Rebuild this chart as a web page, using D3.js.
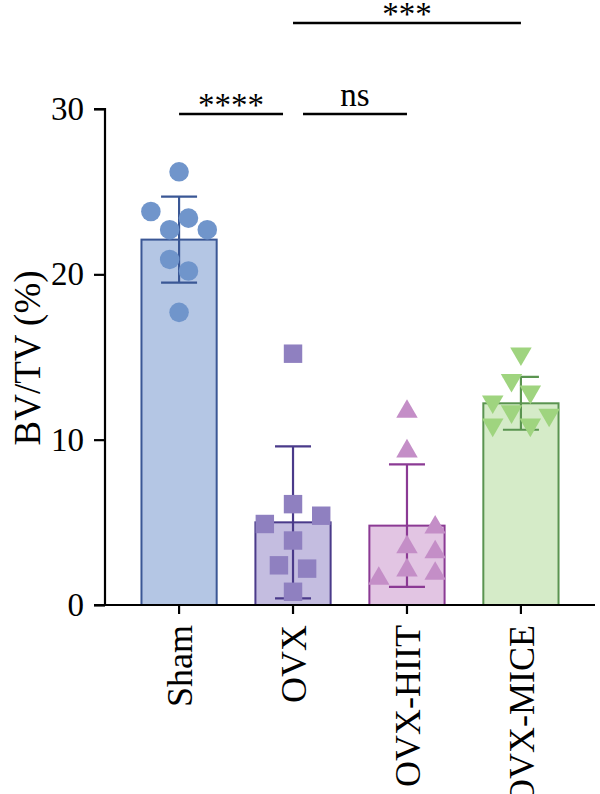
<!DOCTYPE html>
<html>
<head>
<meta charset="utf-8">
<script src="https://cdn.jsdelivr.net/npm/d3@7"></script>
<style>
  body { margin: 0; background: #fff; }
  text { font-family: "Liberation Serif", "Times New Roman", serif; }
</style>
</head>
<body>
<script>
// chart values
var groups = ["Sham", "OVX", "OVX-HIIT", "OVX-MICE"];
var shamVals = [26.2, 23.8, 23.4, 22.7, 22.7, 20.9, 20.2, 17.7];
var ovxVals = [15.2, 6.1, 4.9, 5.4, 3.9, 2.4, 2.2, 0.8];
var hiitVals = [11.7, 9.3, 4.7, 3.5, 3.2, 2.1, 1.9, 1.6];
var miceVals = [15.2, 13.6, 12.9, 12.3, 11.7, 11.5, 10.9, 10.9];
var means = [22.1, 5.0, 4.8, 12.2];
var sds = [2.6, 4.6, 3.7, 1.6];
// column slot of each dot inside its bar (scatter dodge)
var shamSlots = [0, -3, 1, -1, 3, -1, 1, 0];
var ovxSlots = [0, 0, -3, 3, 0, -1.5, 1.5, 0];
var hiitSlots = [0, 0, 3, 0, 3, 0, 3, -3];
var miceSlots = [0, -1, 1, -3, -1, 3, -3, 1];
var yTicks = [0, 10, 20, 30];
var comparisons = [
  {a: 0, b: 1, label: "****", level: 29.7},
  {a: 1, b: 2, label: "ns", level: 29.7},
  {a: 1, b: 3, label: "***", level: 35.2}
];

var w = 600, h = 794;
var fills = ["#b4c6e4", "#c4bde0", "#e2c5e3", "#d5ebc8"];
var strokes = ["#3a5795", "#4a3a8a", "#8b3a94", "#5a9450"];
var dots = ["#7095cb", "#8f80c0", "#c48ec7", "#9fd47f"];
var shapes = [d3.symbolCircle, d3.symbolSquare, d3.symbolTriangle, d3.symbolTriangle];

var allVals = [shamVals, ovxVals, hiitVals, miceVals];
var allSlots = [shamSlots, ovxSlots, hiitSlots, miceSlots];

var svg = d3.select("body").append("svg")
            .attr("width", w)
            .attr("height", h);

var xScale = d3.scaleBand()
               .domain(groups)
               .range([105, 595])
               .paddingInner(0.34)
               .paddingOuter(0.32);
var yScale = d3.scaleLinear()
               .domain([0, 30])
               .range([605, 109]);

var data = groups.map(function(g, i) {
  return {name: g, i: i, mean: means[i], sd: sds[i], vals: allVals[i], slots: allSlots[i]};
});

/****Bars****/
svg.selectAll("rect.bar")
   .data(data)
   .enter()
   .append("rect")
   .attr("class", "bar")
   .attr("x", function(d) { return xScale(d.name); })
   .attr("y", function(d) { return yScale(d.mean); })
   .attr("width", xScale.bandwidth())
   .attr("height", function(d) { return yScale(0) - yScale(d.mean); })
   .attr("fill", function(d) { return fills[d.i]; })
   .attr("stroke", function(d) { return strokes[d.i]; })
   .attr("stroke-width", 2);

/****Error bars****/
var cap = 18;
var eb = svg.selectAll("g.err")
            .data(data)
            .enter()
            .append("g")
            .attr("class", "err")
            .attr("stroke", function(d) { return strokes[d.i]; })
            .attr("stroke-width", 2.2);
eb.append("line")
  .attr("x1", function(d) { return xScale(d.name) + xScale.bandwidth() / 2; })
  .attr("x2", function(d) { return xScale(d.name) + xScale.bandwidth() / 2; })
  .attr("y1", function(d) { return yScale(d.mean + d.sd); })
  .attr("y2", function(d) { return yScale(d.mean - d.sd); });
[1, -1].forEach(function(s) {
  eb.append("line")
    .attr("x1", function(d) { return xScale(d.name) + xScale.bandwidth() / 2 - cap; })
    .attr("x2", function(d) { return xScale(d.name) + xScale.bandwidth() / 2 + cap; })
    .attr("y1", function(d) { return yScale(d.mean + s * d.sd); })
    .attr("y2", function(d) { return yScale(d.mean + s * d.sd); });
});

/****Points****/
var slotW = 9.4;
data.forEach(function(d) {
  var sym = d3.symbol().type(shapes[d.i]).size(d.i == 0 ? 300 : (d.i == 1 ? 340 : 200));
  svg.selectAll("path.pt" + d.i)
     .data(d.vals)
     .enter()
     .append("path")
     .attr("class", "pt" + d.i)
     .attr("d", sym)
     .attr("fill", dots[d.i])
     .attr("transform", function(v, j) {
       var cx = xScale(d.name) + xScale.bandwidth() / 2 + d.slots[j] * slotW;
       var rot = d.i == 3 ? " rotate(180)" : "";
       return "translate(" + cx + "," + yScale(v) + ")" + rot;
     });
});

/****Axes****/
var yAxis = d3.axisLeft(yScale)
              .tickValues(yTicks)
              .tickSize(11)
              .tickPadding(10);
var gy = svg.append("g")
            .attr("transform", "translate(105,0)")
            .call(yAxis);
gy.select(".domain").attr("stroke-width", 2.2).attr("d", "M-11,109H0V605H-11");
gy.selectAll(".tick line").attr("stroke-width", 2.2);
gy.selectAll("text").attr("font-size", 33).attr("fill", "#000")
  .style("font-family", "'Liberation Serif', serif");

var xAxis = d3.axisBottom(xScale)
              .tickSize(9)
              .tickPadding(0);
var gx = svg.append("g")
            .attr("transform", "translate(0,605)")
            .call(xAxis);
gx.select(".domain").attr("stroke-width", 2.2).attr("d", "M105,0H595");
gx.selectAll(".tick line").attr("stroke-width", 2.2);
gx.selectAll("text")
  .attr("font-size", 36)
  .attr("fill", "#000")
  .style("font-family", "'Liberation Serif', serif")
  .attr("text-anchor", "end")
  .attr("transform", "rotate(-90)")
  .attr("x", -20)
  .attr("y", 0)
  .attr("dy", "0.35em");

/****Axis title****/
svg.append("text")
   .attr("transform", "translate(40,358) rotate(-90)")
   .attr("text-anchor", "middle")
   .attr("font-size", 37)
   .text("BV/TV (%)");

/****Significance****/
var ctr = function(i) { return xScale(groups[i]) + xScale.bandwidth() / 2; };
comparisons.forEach(function(c) {
  var gapA = comparisons.some(function(o) { return o !== c && o.level == c.level && o.b == c.a; }) ? 10 : 0;
  var gapB = comparisons.some(function(o) { return o !== c && o.level == c.level && o.a == c.b; }) ? 10 : 0;
  var yy = yScale(c.level);
  svg.append("line")
     .attr("x1", ctr(c.a) + gapA)
     .attr("x2", ctr(c.b) - gapB)
     .attr("y1", yy)
     .attr("y2", yy)
     .attr("stroke", "#000")
     .attr("stroke-width", 2.5);
  var star = c.label.indexOf("*") >= 0;
  svg.append("text")
     .attr("x", (ctr(c.a) + gapA + ctr(c.b) - gapB) / 2)
     .attr("y", star ? yy + 2 : yy - 8)
     .attr("text-anchor", "middle")
     .attr("font-size", 33)
     .text(c.label);
});
</script>
</body>
</html>
